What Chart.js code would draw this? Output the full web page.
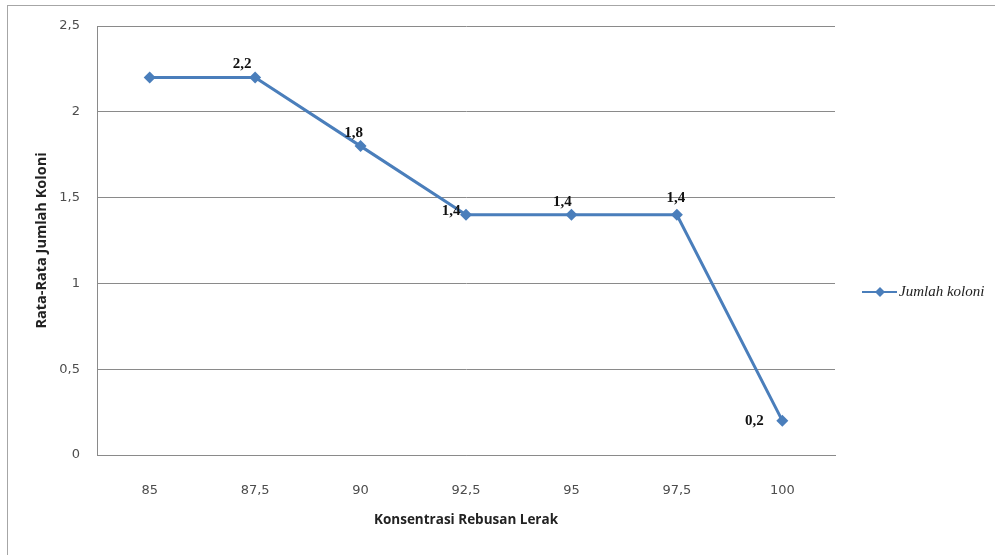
<!DOCTYPE html>
<html>
<head>
<meta charset="utf-8">
<title>Rata-Rata Jumlah Koloni</title>
<script src="https://cdn.jsdelivr.net/npm/chart.js@4/dist/chart.umd.min.js"></script>
<style>
    html, body { margin: 0; padding: 0; background: #fff; }
    #wrap { width: 995px; height: 555px; }
</style>
</head>
<body>
<div id="wrap"><canvas id="koloniChart" width="995" height="555"></canvas></div>
<script>
// Data
const konsentrasi = ['85', '87,5', '90', '92,5', '95', '97,5', '100'];
const jumlahKoloni = [2.2, 2.2, 1.8, 1.4, 1.4, 1.4, 0.2];
const yTicks = [0, 0.5, 1, 1.5, 2, 2.5];
const seriesName = 'Jumlah koloni';

// Label offsets from each point (null = no label), styling only
const labelOffsets = [null, [-13, -13], [-7, -13], [-15, -4], [-9, -13], [-1, -17], [-28, 0]];

const blue = '#4a7ebb';
const gridGrey = '#8a8a8a';

function fmt(v) {
    return String(v).replace('.', ',');
}

// Outer frame like the original picture
const framePlugin = {
    id: 'frame',
    beforeDraw(chart) {
        const ctx = chart.ctx;
        ctx.save();
        ctx.fillStyle = '#fff';
        ctx.fillRect(0, 0, chart.width, chart.height);
        ctx.strokeStyle = '#a6a6a6';
        ctx.lineWidth = 1;
        ctx.strokeRect(7.5, 5.5, chart.width + 20, chart.height + 20);
        ctx.restore();
    }
};

// Value labels next to the points
const valueLabels = {
    id: 'valueLabels',
    afterDatasetsDraw(chart) {
        const ctx = chart.ctx;
        const meta = chart.getDatasetMeta(0);
        const data = chart.data.datasets[0].data;
        ctx.save();
        ctx.font = 'bold 15px "Liberation Serif", "Times New Roman", serif';
        ctx.fillStyle = '#111';
        ctx.textAlign = 'center';
        ctx.textBaseline = 'middle';
        meta.data.forEach((pt, i) => {
            const off = labelOffsets[i];
            if (!off) return;
            ctx.fillText(fmt(data[i]), pt.x + off[0], pt.y + off[1]);
        });
        ctx.restore();
    }
};

// Legend on the right: line + diamond + italic name
const sideLegend = {
    id: 'sideLegend',
    afterDraw(chart) {
        const ctx = chart.ctx;
        const ds = chart.data.datasets[0];
        const y = 292;
        ctx.save();
        ctx.strokeStyle = ds.borderColor;
        ctx.lineWidth = 2;
        ctx.beginPath();
        ctx.moveTo(862, y);
        ctx.lineTo(897, y);
        ctx.stroke();
        ctx.fillStyle = ds.pointBackgroundColor;
        ctx.beginPath();
        ctx.moveTo(880, y - 5);
        ctx.lineTo(885, y);
        ctx.lineTo(880, y + 5);
        ctx.lineTo(875, y);
        ctx.closePath();
        ctx.fill();
        ctx.font = 'italic 15px "Liberation Serif", "Times New Roman", serif';
        ctx.fillStyle = '#222';
        ctx.textAlign = 'left';
        ctx.textBaseline = 'middle';
        ctx.fillText(ds.label, 899, y);
        ctx.restore();
    }
};

const ctx = document.getElementById('koloniChart').getContext('2d');
new Chart(ctx, {
    type: 'line',
    data: {
        labels: konsentrasi,
        datasets: [{
            label: seriesName,
            data: jumlahKoloni,
            borderColor: blue,
            backgroundColor: blue,
            pointBackgroundColor: blue,
            pointBorderColor: blue,
            borderWidth: 3,
            pointStyle: 'rectRot',
            pointRadius: 6,
            pointBorderWidth: 0,
            tension: 0,
            fill: false
        }]
    },
    options: {
        responsive: false,
        animation: false,
        devicePixelRatio: 1,
        layout: {
            padding: { top: 26, right: 160, left: 0, bottom: 0 }
        },
        plugins: {
            legend: { display: false },
            tooltip: { enabled: false }
        },
        scales: {
            x: {
                offset: true,
                grid: { display: false },
                border: { display: true, color: gridGrey, width: 1 },
                ticks: {
                    padding: 20,
                    color: '#4d4d4d',
                    font: { family: '"DejaVu Sans", sans-serif', size: 13 }
                },
                title: {
                    display: true,
                    text: 'Konsentrasi Rebusan Lerak',
                    color: '#222',
                    font: { family: '"Open Sans", sans-serif', size: 13.5, weight: 'bold', lineHeight: 1.2 },
                    padding: { top: 0, bottom: 27 }
                },
                afterFit(scale) { scale.height = 100; }
            },
            y: {
                min: 0,
                max: 2.5,
                afterBuildTicks(scale) {
                    scale.ticks = yTicks.map(v => ({ value: v }));
                },
                grid: { color: gridGrey, lineWidth: 1, drawTicks: false },
                border: { display: true, color: gridGrey, width: 1 },
                ticks: {
                    padding: 17,
                    color: '#4d4d4d',
                    font: { family: '"DejaVu Sans", sans-serif', size: 13 },
                    callback: (v) => fmt(v)
                },
                title: {
                    display: true,
                    text: 'Rata-Rata Jumlah Koloni',
                    color: '#222',
                    font: { family: '"Open Sans", sans-serif', size: 14.5, weight: 'bold', lineHeight: 1.2 },
                    padding: { top: 33, bottom: 0 }
                },
                afterFit(scale) { scale.width = 97; }
            }
        }
    },
    plugins: [framePlugin, valueLabels, sideLegend]
});
</script>
</body>
</html>
